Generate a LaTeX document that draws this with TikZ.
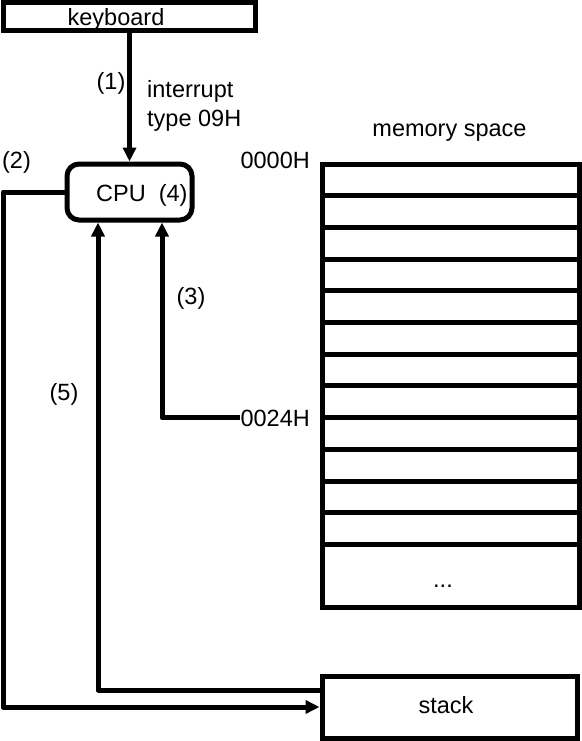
\documentclass[tikz,border=0pt]{standalone}
\usepackage{fontspec}
\setmainfont{Liberation Sans}
\usetikzlibrary{arrows.meta,calc}
\begin{document}
\begin{tikzpicture}[x=1pt,y=-1pt,
  box/.style={draw,line width=5pt,inner sep=0pt},
  lbl/.style={font=\fontsize{23.5}{28}\selectfont,inner sep=0pt},
  conn/.style={line width=5pt,line join=round,-{Triangle[length=14pt,width=13pt]}}]
\useasboundingbox (0,0) rectangle (581,741);
% keyboard
\node[box,minimum width=252pt,minimum height=28pt] (kb) at (129.5,17) {};
\node[lbl,anchor=base] (kbt) at (116,26) {keyboard};
% CPU
\node[box,rounded corners=12pt,minimum width=125pt,minimum height=56pt] (cpu) at (129.5,192) {};
\node[lbl,anchor=base west] (cput) at (96,201) {CPU\ \ (4)};
% memory
\foreach \k in {0,...,11}
  \node[box,minimum width=257pt,minimum height=31.7pt] (m\k) at (451,{164+31.7*\k+15.85}) {};
\node[box,minimum width=257pt,minimum height=63.4pt] (mend) at (451,576.1) {};
\node[lbl,anchor=base] (dots) at (443,587) {...};
\node[lbl,anchor=base] (mems) at (449.5,136) {memory space};
\node[lbl,anchor=base east] (a0) at (310,168) {0000H};
\node[lbl,anchor=base east] (a24) at (310,426) {0024H};
% stack
\node[box,minimum width=255pt,minimum height=62pt] (stack) at (449.5,707) {};
\node[lbl,anchor=base] (stackt) at (446,713) {stack};
% labels
\node[lbl,anchor=base] (l1) at (111,90) {(1)};
\node[lbl,anchor=base west] (int1) at (147,98) {interrupt};
\node[lbl,anchor=base west] (int2) at (147,126) {type 09H};
\node[lbl,anchor=base] (l2) at (16.5,168) {(2)};
\node[lbl,anchor=base] (l3) at (191,304) {(3)};
\node[lbl,anchor=base] (l5) at (64,400) {(5)};
% connectors
\coordinate (c2) at (3,0);
\coordinate (c3) at (162,0);
\coordinate (c5) at (98,690);
\draw[conn] (kb.south) -- (kb.south |- cpu.north);
\draw[conn] (cpu.west) -| (c2 |- stack.west) -- (stack.west);
\draw[conn] (stack.west |- c5) -| (c5 |- cpu.south);
\draw[conn] (a24.west) -| (c3 |- cpu.south);
\end{tikzpicture}
\end{document}
